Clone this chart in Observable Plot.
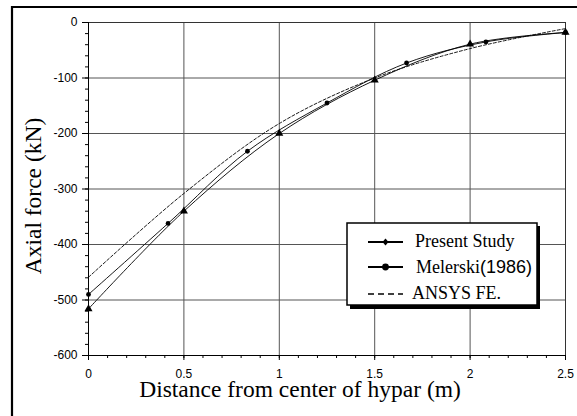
<!DOCTYPE html>
<html>
<head>
<meta charset="utf-8">
<script src="https://cdn.jsdelivr.net/npm/d3@7"></script>
<script src="https://cdn.jsdelivr.net/npm/@observablehq/plot@0.6"></script>
<style>
  html, body { margin: 0; padding: 0; background: #fff; }
  #chart { width: 577px; height: 416px; overflow: hidden; }
</style>
</head>
<body>
<div id="chart"></div>
<script>
// Axial force along the hypar edge member: three solutions
const presentX = [0, 0.5, 1, 1.5, 2, 2.5];
const presentY = [-516, -340, -200, -104, -39, -18];

const melerskiX = [0, 0.417, 0.833, 1.25, 1.667, 2.083, 2.5];
const melerskiY = [-490, -362, -232, -145, -73, -35, -18];

const ansysX = [0, 0.5, 1, 1.5, 2, 2.5];
const ansysY = [-459, -308, -182, -100, -47, -11];

const xTicks = [0, 0.5, 1, 1.5, 2, 2.5];
const yTicks = [0, -100, -200, -300, -400, -500, -600];
const xMinor = d3.range(0, 26).map(i => i / 10);
const yMinor = d3.range(-600, 1, 20);

const seriesNames = ["Present Study", "Melerski", "(1986)", "ANSYS FE."];
const xTitle = "Distance from center of hypar (m)";
const yTitle = "Axial force (kN)";

const present = presentX.map((x, i) => ({x, y: presentY[i]}));
const melerski = melerskiX.map((x, i) => ({x, y: melerskiY[i]}));
const ansys = ansysX.map((x, i) => ({x, y: ansysY[i]}));

const gridColor = "#555";
const fmt = d => String(d);

const chart = Plot.plot({
  width: 577,
  height: 416,
  marginLeft: 88,
  marginRight: 12,
  marginTop: 22,
  marginBottom: 61,
  style: {fontFamily: "'Liberation Sans', Arial, sans-serif", fontSize: "12px", background: "#fff", color: "#000"},
  x: {domain: [0, 2.5]},
  y: {domain: [-600, 0]},
  marks: [
    Plot.gridX(xTicks.filter(d => d > 0 && d < 2.5), {stroke: gridColor, strokeOpacity: 1}),
    Plot.gridY(yTicks.filter(d => d > -600 && d < 0), {stroke: gridColor, strokeOpacity: 1}),
    Plot.ruleY([0], {stroke: "#333"}),
    Plot.ruleX([2.5], {stroke: "#333"}),
    Plot.axisY(yMinor, {tickSize: 3, tickFormat: () => "", label: null}),
    Plot.axisY(yTicks, {tickSize: 6, tickPadding: 5, tickFormat: fmt, label: null, fontSize: 12}),
    Plot.axisX(xMinor, {tickSize: 3, tickFormat: () => "", label: null}),
    Plot.axisX(xTicks, {tickSize: 5, tickPadding: 9, tickFormat: fmt, label: null, fontSize: 12}),
    Plot.ruleX([0], {stroke: "#000"}),
    Plot.ruleY([-600], {stroke: "#000"}),
    Plot.line(ansys, {x: "x", y: "y", curve: "catmull-rom", stroke: "#000", strokeWidth: 0.9, strokeDasharray: "3,2"}),
    Plot.line(melerski, {x: "x", y: "y", curve: "catmull-rom", stroke: "#000", strokeWidth: 0.9}),
    Plot.line(present, {x: "x", y: "y", curve: "catmull-rom", stroke: "#000", strokeWidth: 0.9}),
    Plot.dot(melerski, {x: "x", y: "y", r: 2.4, fill: "#000", stroke: "none"}),
    Plot.dot(present, {x: "x", y: "y", r: 3, symbol: "triangle", fill: "#000", stroke: "none"})
  ]
});

document.getElementById("chart").appendChild(chart);

const svg = d3.select(chart);

// outer border (left and top edges)
svg.append("path")
  .attr("d", "M12,420 V7 H580")
  .attr("fill", "none")
  .attr("stroke", "#000")
  .attr("stroke-width", 2.2);

const serif = "'Liberation Serif', 'Times New Roman', serif";
const sans = "'Liberation Sans', Arial, sans-serif";

// axis titles
svg.append("text")
  .attr("x", 300)
  .attr("y", 397)
  .attr("text-anchor", "middle")
  .attr("font-family", serif)
  .attr("font-size", 23.5)
  .attr("fill", "#000")
  .text(xTitle);

svg.append("text")
  .attr("transform", "translate(41,196) rotate(-90)")
  .attr("text-anchor", "middle")
  .attr("font-family", serif)
  .attr("font-size", 23.5)
  .attr("fill", "#000")
  .text(yTitle);

// legend box with drop shadow
const lg = svg.append("g").attr("text-anchor", "start");
lg.append("rect")
  .attr("x", 350).attr("y", 226).attr("width", 190).attr("height", 83)
  .attr("fill", "#000");
lg.append("rect")
  .attr("x", 347).attr("y", 223).attr("width", 190).attr("height", 82)
  .attr("fill", "#fff").attr("stroke", "#000").attr("stroke-width", 1.5);

const x0 = 368, x1 = 403, tx = 415;
// Present Study
lg.append("line").attr("x1", x0).attr("x2", x1).attr("y1", 242).attr("y2", 242)
  .attr("stroke", "#000").attr("stroke-width", 2);
lg.append("path").attr("d", `M${(x0 + x1) / 2},238.5 l3,3.5 l-3,3.5 l-3,-3.5 Z`).attr("fill", "#000");
lg.append("text").attr("x", tx).attr("y", 247)
  .attr("font-family", serif).attr("font-size", 18).attr("fill", "#000")
  .text(seriesNames[0]);
// Melerski(1986)
lg.append("line").attr("x1", x0).attr("x2", x1).attr("y1", 267).attr("y2", 267)
  .attr("stroke", "#000").attr("stroke-width", 2);
lg.append("circle").attr("cx", (x0 + x1) / 2).attr("cy", 267).attr("r", 3.4).attr("fill", "#000");
const mt = lg.append("text").attr("x", tx + 1).attr("y", 273)
  .attr("font-family", serif).attr("font-size", 18).attr("fill", "#000");
mt.append("tspan").text(seriesNames[1]);
mt.append("tspan").attr("font-family", sans).text(seriesNames[2]);
// ANSYS FE.
lg.append("line").attr("x1", x0).attr("x2", x1).attr("y1", 294).attr("y2", 294)
  .attr("stroke", "#000").attr("stroke-width", 1.5).attr("stroke-dasharray", "6,4");
lg.append("text").attr("x", tx - 3).attr("y", 299)
  .attr("font-family", serif).attr("font-size", 18).attr("fill", "#000")
  .text(seriesNames[3]);
</script>
</body>
</html>
